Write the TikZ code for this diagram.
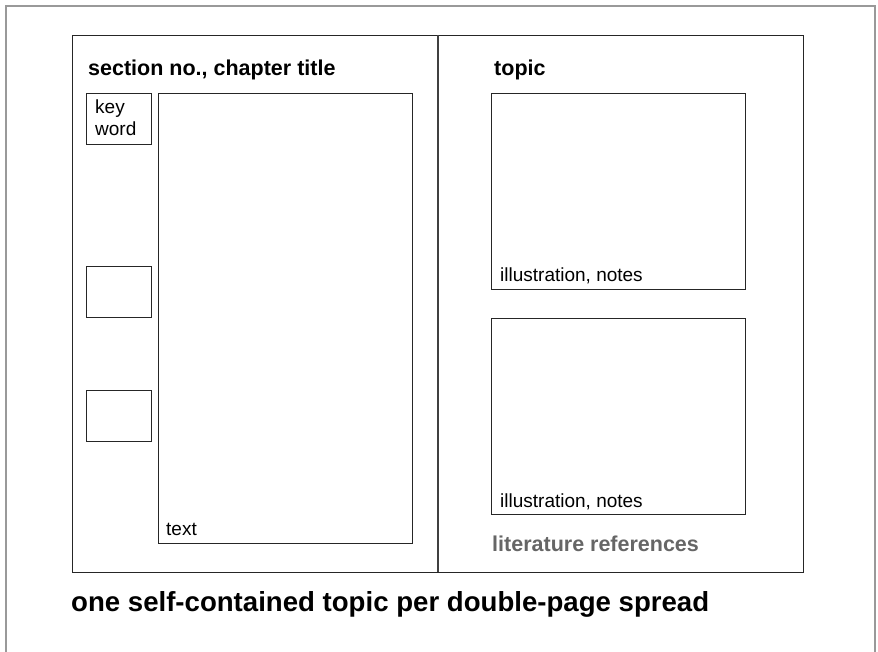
\documentclass[tikz,border=0pt]{standalone}
\usepackage{fontspec}
\setmainfont{Liberation Sans}
\begin{document}
\begin{tikzpicture}[x=1pt,y=-1pt,
  frame/.style={draw=black!75, line width=1.1pt},
  outerframe/.style={draw=black!40, line width=1.6pt},
  box/.style={draw=black!85, line width=1pt, inner sep=0pt, anchor=north west},
  head/.style={anchor=base west, inner sep=0pt, font=\fontsize{21.5}{24}\selectfont\bfseries},
  lab/.style={anchor=base west, inner sep=0pt, font=\fontsize{19}{22}\selectfont},
  big/.style={anchor=base west, inner sep=0pt, font=\fontsize{27.6}{30}\selectfont\bfseries}]
\useasboundingbox (0,0) rectangle (878,652);
\fill[white] (0,0) rectangle (878,652);
\coordinate (ol) at (6,652);
\coordinate (tl) at (6,6);
\coordinate (tr) at (875,6);
\coordinate (or) at (875,652);
\draw[outerframe] (ol) -- (tl) -- (tr) -- (or);
% spread
\node[frame, box, minimum width=731pt, minimum height=537pt] (spread) at (72,35) {};
\coordinate (dt) at (438,35);
\coordinate (db) at (438,572);
\draw[frame] (dt) -- (db);
% left page
\node[head] (sec) at (88,76) {section no., chapter title};
\node[box, minimum width=65pt, minimum height=51pt] (kw1) at (86,93) {};
\node[lab] (key) at (95,114) {key};
\node[lab] (word) at (95,136) {word};
\node[box, minimum width=65pt, minimum height=51pt] (kw2) at (86,266) {};
\node[box, minimum width=65pt, minimum height=51pt] (kw3) at (86,390) {};
\node[box, minimum width=254pt, minimum height=450pt] (txt) at (158,93) {};
\node[lab] (txtl) at (166,535) {text};
% right page
\node[head] (topic) at (494,76) {topic};
\node[box, minimum width=254pt, minimum height=196pt] (ill1) at (491,93) {};
\node[lab] (ill1l) at (500,282) {illustration, notes};
\node[box, minimum width=254pt, minimum height=196pt] (ill2) at (491,318) {};
\node[lab] (ill2l) at (500,507) {illustration, notes};
\node[head, text=black!60] (lit) at (492,551) {literature references};
% caption
\node[big] (cap) at (71,611) {one self-contained topic per double-page spread};
\end{tikzpicture}
\end{document}
